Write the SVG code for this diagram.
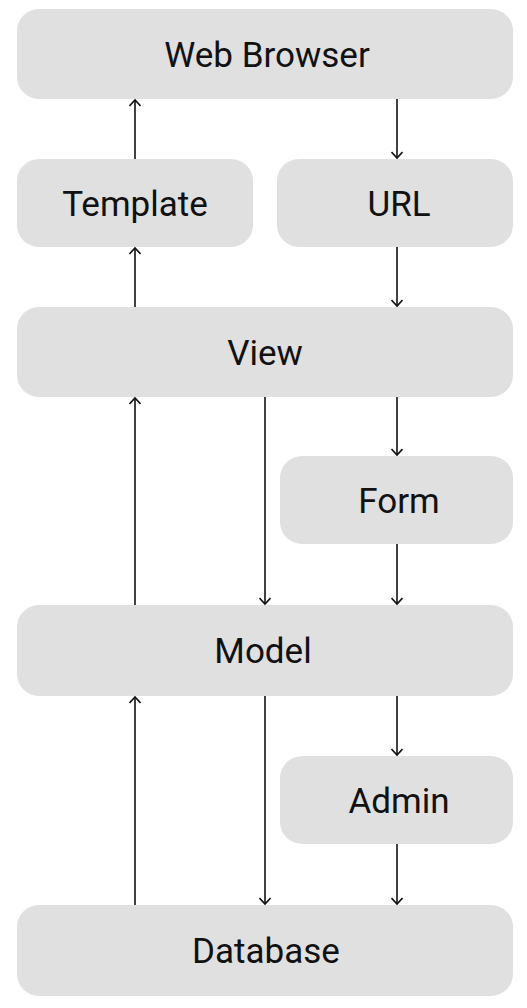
<svg xmlns="http://www.w3.org/2000/svg" width="527" height="1008" viewBox="0 0 527 1008">
<defs>
<style>
.box{fill:#e0e0e0;}
.lbl{font-family:Roboto,"Liberation Sans",sans-serif;font-size:35px;fill:#111;text-anchor:middle;}
.edge{stroke:#111;stroke-width:1.6;fill:none;marker-end:url(#ah);}
</style>
<marker id="ah" viewBox="0 0 12 12" refX="10" refY="6" markerWidth="12" markerHeight="12" markerUnits="userSpaceOnUse" orient="auto">
<path d="M4,0.5 L10,6 L4,11.5" fill="none" stroke="#111" stroke-width="1.6"/>
</marker>
</defs>
<rect width="527" height="1008" fill="#fff"/>
<g id="web-browser"><rect class="box" x="17" y="9" width="496" height="90" rx="22"/><text class="lbl" x="267" y="66.5">Web Browser</text></g>
<g id="template"><rect class="box" x="17" y="159" width="236" height="88" rx="22"/><text class="lbl" x="135" y="215.5">Template</text></g>
<g id="url"><rect class="box" x="277" y="159" width="236" height="88" rx="22"/><text class="lbl" x="399" y="215.5">URL</text></g>
<g id="view"><rect class="box" x="17" y="307" width="496" height="90" rx="22"/><text class="lbl" x="265" y="364.5">View</text></g>
<g id="form"><rect class="box" x="280" y="456" width="233" height="88" rx="22"/><text class="lbl" x="399" y="512.5">Form</text></g>
<g id="model"><rect class="box" x="17" y="605" width="496" height="91" rx="22"/><text class="lbl" x="263" y="663">Model</text></g>
<g id="admin"><rect class="box" x="280" y="756" width="233" height="88" rx="22"/><text class="lbl" x="399" y="812.5">Admin</text></g>
<g id="database"><rect class="box" x="17" y="905" width="496" height="91" rx="22"/><text class="lbl" x="266" y="963">Database</text></g>
<g id="connectors">
<line class="edge" x1="135" y1="159" x2="135" y2="100"/>
<line class="edge" x1="397" y1="99" x2="397" y2="158"/>
<line class="edge" x1="135" y1="307" x2="135" y2="248"/>
<line class="edge" x1="397" y1="247" x2="397" y2="306"/>
<line class="edge" x1="135" y1="605" x2="135" y2="398"/>
<line class="edge" x1="265" y1="397" x2="265" y2="604"/>
<line class="edge" x1="397" y1="397" x2="397" y2="455"/>
<line class="edge" x1="397" y1="544" x2="397" y2="604"/>
<line class="edge" x1="135" y1="905" x2="135" y2="697"/>
<line class="edge" x1="265" y1="696" x2="265" y2="904"/>
<line class="edge" x1="397" y1="696" x2="397" y2="755"/>
<line class="edge" x1="397" y1="844" x2="397" y2="904"/>
</g>
</svg>
